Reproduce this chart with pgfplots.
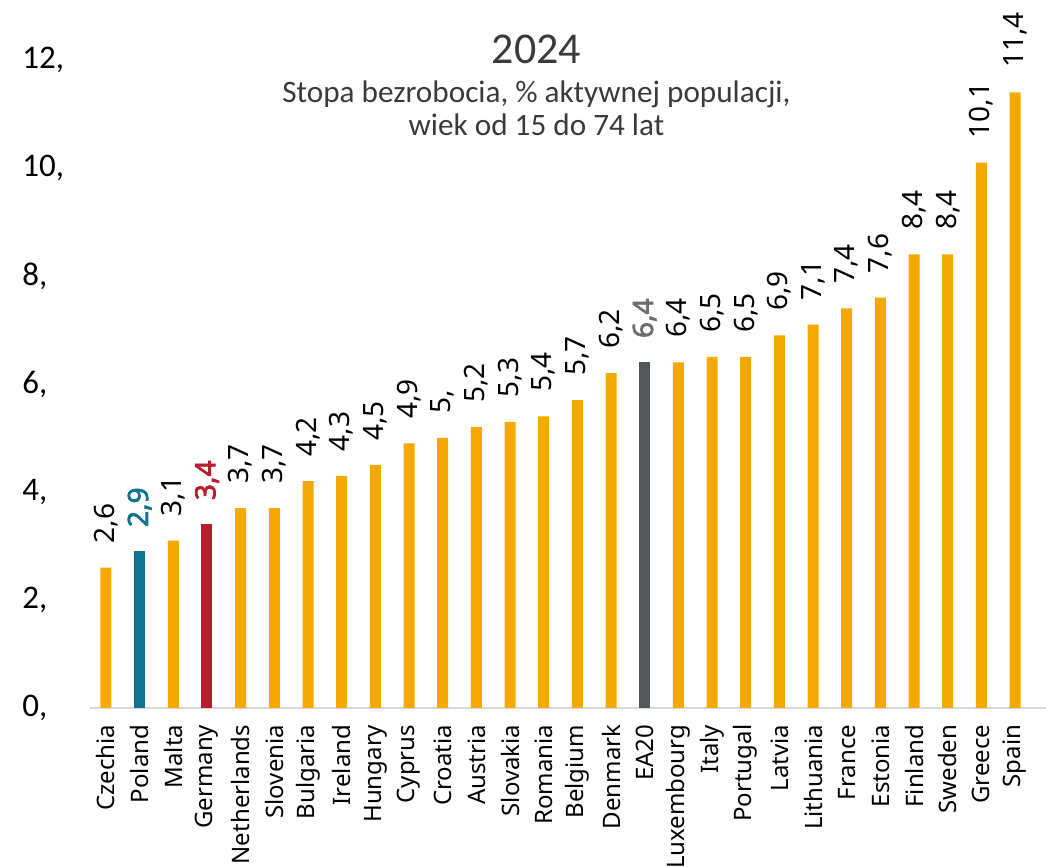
\documentclass[border=0pt]{standalone}
\usepackage{pgfplots}
\pgfplotsset{compat=1.18}
\usepackage{pgfplotstable}
\usepackage{fontspec}
\setmainfont{Carlito}
\newfontfamily\labfont{Noto Sans}
\newfontfamily\labbold[FakeBold=2.5]{Noto Sans}

\definecolor{barorange}{HTML}{F5A800}
\definecolor{barteal}{HTML}{0E7391}
\definecolor{barred}{HTML}{B91C2C}
\definecolor{bargray}{HTML}{53575A}
\definecolor{labgray}{HTML}{6D6E71}
\definecolor{titlegray}{HTML}{3A3A3A}
\definecolor{basegray}{HTML}{D9D9D9}

% unemployment rate 2024, % of active population
\pgfplotstableread{
x y lab
0 2.6 2,6
2 3.1 3,1
4 3.7 3,7
5 3.7 3,7
6 4.2 4,2
7 4.3 4,3
8 4.5 4,5
9 4.9 4,9
10 5.0 5,
11 5.2 5,2
12 5.3 5,3
13 5.4 5,4
14 5.7 5,7
15 6.2 6,2
17 6.4 6,4
18 6.5 6,5
19 6.5 6,5
20 6.9 6,9
21 7.1 7,1
22 7.4 7,4
23 7.6 7,6
24 8.4 8,4
25 8.4 8,4
26 10.1 10,1
27 11.4 11,4
}\others
\pgfplotstableread{
x y lab
1 2.9 2,9
}\poland
\pgfplotstableread{
x y lab
3 3.4 3,4
}\germany
\pgfplotstableread{
x y lab
16 6.4 6,4
}\eatwenty

\begin{document}
\begin{tikzpicture}
\begin{axis}[name=a,
scale only axis,
width=478pt,
height=324pt,
xmin=-0.475, xmax=27.92,
ymin=0, ymax=12,
axis line style={draw=none},
axis x line*=bottom,
axis y line*=left,
ytick={0,2,4,6,8,10,12},
yticklabels={{0,},{2,},{4,},{6,},{8,},{10,},{12,}},
yticklabel style={anchor=west,font=\fontsize{16.5}{19}\selectfont,inner sep=0pt,xshift=-34pt},
xtick={0,...,27},
xticklabels={Czechia,Poland,Malta,Germany,Netherlands,Slovenia,Bulgaria,Ireland,Hungary,Cyprus,Croatia,Austria,Slovakia,Romania,Belgium,Denmark,EA20,Luxembourg,Italy,Portugal,Latvia,Lithuania,France,Estonia,Finland,Sweden,Greece,Spain},
major tick length=0pt,
xticklabel style={rotate=90,anchor=east,font=\labfont\fontsize{12}{14}\selectfont,inner ysep=0pt,inner xsep=8.2pt},
clip=false,
every node near coord/.append style={rotate=90,anchor=west,font=\labfont\fontsize{14}{16}\selectfont,inner sep=0pt,xshift=12pt},
point meta=explicit symbolic,
nodes near coords,
]
\draw[basegray,line width=1pt] (rel axis cs:0,0) -- (rel axis cs:1,0);
\addplot[ybar,bar width=5.5pt,bar shift=0pt,fill=barorange,draw=none] table[x=x,y=y,meta=lab] {\others};
\addplot[ybar,bar width=5.5pt,bar shift=0pt,fill=barteal,draw=none,
  every node near coord/.append style={text=barteal,font=\labbold\fontsize{14}{16}\selectfont}] table[x=x,y=y,meta=lab] {\poland};
\addplot[ybar,bar width=5.5pt,bar shift=0pt,fill=barred,draw=none,
  every node near coord/.append style={text=barred,font=\labbold\fontsize{14}{16}\selectfont}] table[x=x,y=y,meta=lab] {\germany};
\addplot[ybar,bar width=5.5pt,bar shift=0pt,fill=bargray,draw=none,
  every node near coord/.append style={text=labgray,font=\labbold\fontsize{14}{16}\selectfont}] table[x=x,y=y,meta=lab] {\eatwenty};
\node[anchor=base,text=titlegray,font=\fontsize{22}{26}\selectfont] at (rel axis cs:0.467,0.995) {2024};
\node[anchor=base,text=titlegray,font=\fontsize{15.6}{18}\selectfont] at (rel axis cs:0.467,0.935) {Stopa bezrobocia, \% aktywnej populacji,};
\node[anchor=base,text=titlegray,font=\fontsize{15.6}{18}\selectfont] at (rel axis cs:0.467,0.884) {wiek od 15 do 74 lat};
\end{axis}
\pgfresetboundingbox
\path ([xshift=-45pt,yshift=-79.5pt]a.south west) rectangle ([yshift=30pt]a.north east);
\end{tikzpicture}
\end{document}
